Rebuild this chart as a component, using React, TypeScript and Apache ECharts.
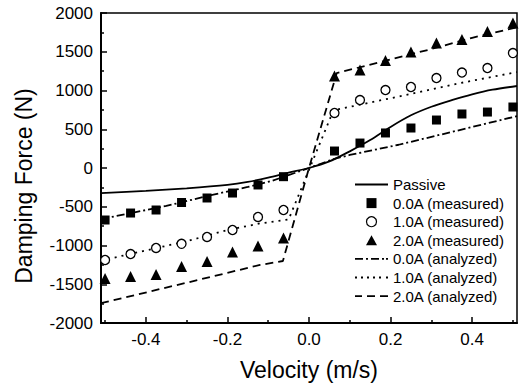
import React, { useEffect, useRef } from "react";
import * as echarts from "echarts";

// Measured velocities (m/s)
const velocities = [-0.5, -0.4375, -0.375, -0.3125, -0.25, -0.1875, -0.125, -0.0625, 0.0625, 0.125, 0.1875, 0.25, 0.3125, 0.375, 0.4375, 0.5];
const measured00 = [-671, -581, -542, -445, -387, -323, -219, -112, 219, 322, 452, 516, 619, 697, 722, 787];
const measured10 = [-1187, -1110, -1032, -978, -890, -800, -632, -542, 710, 877, 1006, 1045, 1161, 1232, 1290, 1483];
const measured20 = [-1425, -1400, -1373, -1270, -1205, -1084, -1006, -903, 1187, 1264, 1387, 1497, 1613, 1658, 1760, 1870];

// Passive curve
const passiveV = [-0.51, -0.4, -0.3, -0.2, -0.15, -0.1, -0.05, 0, 0.05, 0.1, 0.15, 0.2, 0.25, 0.3, 0.35, 0.4, 0.45, 0.51];
const passiveF = [-323, -295, -262, -218, -180, -125, -60, 0, 85, 215, 360, 530, 680, 790, 875, 950, 1010, 1058];

// Analyzed curves
const analyzed00V = [-0.51, -0.35, -0.24, -0.15, -0.09, 0, 0.06, 0.1, 0.22, 0.35, 0.51];
const analyzed00F = [-660, -490, -350, -245, -165, 0, 115, 168, 300, 465, 670];
const analyzed10V = [-0.51, -0.3, -0.2, -0.12, -0.05, 0.06, 0.2, 0.37, 0.51];
const analyzed10F = [-1195, -945, -800, -715, -665, 745, 900, 1095, 1238];
const analyzed20V = [-0.51, -0.3, -0.12, -0.064, 0, 0.068, 0.2, 0.3, 0.4, 0.51];
const analyzed20F = [-1745, -1480, -1251, -1200, 0, 1225, 1400, 1535, 1680, 1815];

const xMajorTicks = [-0.4, -0.2, 0, 0.2, 0.4];
const xMinorTicks = [-0.5, -0.3, -0.1, 0.1, 0.3, 0.5];

const zip = (xs: number[], ys: number[]) => xs.map((x, i) => [x, ys[i]]);

const FONT = "Liberation Sans, Arial, Helvetica, sans-serif";

const solidIcon = "path://M0,0h33v1.8h-33z";
const dashDotIcon = "path://M0,0h8v1.8h-8z M11,0h2v1.8h-2z M16,0h8v1.8h-8z M27,0h2v1.8h-2z M31,0h2v1.8h-2z";
const dotIcon = "path://M0,0h2v1.8h-2z M6,0h2v1.8h-2z M12,0h2v1.8h-2z M18,0h2v1.8h-2z M24,0h2v1.8h-2z M31,0h2v1.8h-2z";
const dashIcon = "path://M0,0h7v1.8h-7z M12,0h8v1.8h-8z M25,0h8v1.8h-8z";
const squareIcon = "path://M0,0h9v9h-9z";
const triangleIcon = "path://M5.5,0L11,10L0,10z";

export default function App() {
  const ref = useRef<HTMLDivElement>(null);
  useEffect(() => {
    if (!ref.current) return;
    const chart = echarts.init(ref.current, undefined, { renderer: "svg" });
    const axisLine = { show: true, onZero: false, lineStyle: { color: "#000", width: 2 } };
    chart.setOption({
      animation: false,
      backgroundColor: "#fff",
      textStyle: { fontFamily: FONT },
      grid: {
        left: 101,
        right: 3,
        top: 13,
        bottom: 64,
        show: true,
        borderColor: "#000",
        borderWidth: 1.5,
      },
      legend: {
        orient: "vertical",
        left: 355,
        top: 177,
        itemWidth: 33,
        itemHeight: 10,
        itemGap: 3.6,
        padding: 0,
        symbolKeepAspect: true,
        textStyle: { fontSize: 15, lineHeight: 15, color: "#000", fontFamily: FONT },
        data: [
          { name: "Passive", icon: solidIcon, itemStyle: { color: "#000", borderWidth: 0 } },
          { name: "0.0A (measured)", icon: squareIcon, itemStyle: { color: "#000", borderWidth: 0 } },
          { name: "1.0A (measured)", icon: "circle", itemStyle: { color: "#fff", borderColor: "#000", borderWidth: 1.2 } },
          { name: "2.0A (measured)", icon: triangleIcon, itemStyle: { color: "#000", borderWidth: 0 } },
          { name: "0.0A (analyzed)", icon: dashDotIcon, itemStyle: { color: "#000", borderWidth: 0 } },
          { name: "1.0A (analyzed)", icon: dotIcon, itemStyle: { color: "#000", borderWidth: 0 } },
          { name: "2.0A (analyzed)", icon: dashIcon, itemStyle: { color: "#000", borderWidth: 0 } },
        ],
      },
      xAxis: [
        {
          type: "value",
          min: -0.51,
          max: 0.51,
          position: "bottom",
          axisLine,
          splitLine: { show: false },
          axisTick: { show: true, inside: true, length: 6, customValues: xMajorTicks, lineStyle: { color: "#000", width: 1.5 } },
          axisLabel: {
            customValues: xMajorTicks,
            formatter: (v: number) => v.toFixed(1),
            fontSize: 17,
            color: "#000",
            margin: 8,
            fontFamily: FONT,
          },
          name: "Velocity (m/s)",
          nameLocation: "middle",
          nameGap: 35,
          nameTextStyle: { fontSize: 23, color: "#000", fontFamily: FONT },
        },
        {
          type: "value",
          min: -0.51,
          max: 0.51,
          position: "bottom",
          axisLine: { show: false, onZero: false },
          splitLine: { show: false },
          axisTick: { show: true, inside: true, length: 3, customValues: xMinorTicks, lineStyle: { color: "#000", width: 1.5 } },
          axisLabel: { show: false },
        },
      ],
      yAxis: {
        type: "value",
        min: -2000,
        max: 2000,
        interval: 500,
        axisLine,
        splitLine: { show: false },
        axisTick: { show: true, inside: true, length: 6, lineStyle: { color: "#000", width: 1.5 } },
        minorTick: { show: true, splitNumber: 2, length: 3, lineStyle: { color: "#000", width: 1.5 } },
        axisLabel: {
          fontSize: 17,
          color: "#000",
          margin: 8,
          fontFamily: FONT,
          formatter: (v: number) => String(v),
        },
        name: "Damping Force (N)",
        nameLocation: "middle",
        nameGap: 66,
        nameTextStyle: { fontSize: 23, color: "#000", fontFamily: FONT, padding: [0, 36, 0, 0] },
      },
      series: [
        {
          name: "Passive",
          type: "line",
          data: zip(passiveV, passiveF),
          smooth: 0.3,
          symbol: "none",
          lineStyle: { color: "#000", width: 1.8, type: "solid" },
          itemStyle: { color: "#000" },
          z: 3,
        },
        {
          name: "0.0A (measured)",
          type: "scatter",
          data: zip(velocities, measured00),
          symbol: "rect",
          symbolSize: 9,
          itemStyle: { color: "#000", opacity: 1 },
          z: 4,
        },
        {
          name: "1.0A (measured)",
          type: "scatter",
          data: zip(velocities, measured10),
          symbol: "circle",
          symbolSize: 9,
          itemStyle: { color: "#fff", borderColor: "#000", borderWidth: 1.3, opacity: 1 },
          z: 4,
        },
        {
          name: "2.0A (measured)",
          type: "scatter",
          data: zip(velocities, measured20),
          symbol: "triangle",
          symbolSize: 11,
          itemStyle: { color: "#000", opacity: 1 },
          z: 4,
        },
        {
          name: "0.0A (analyzed)",
          type: "line",
          data: zip(analyzed00V, analyzed00F),
          symbol: "none",
          lineStyle: { color: "#000", width: 1.8, type: [8, 3, 2, 3] },
          itemStyle: { color: "#000" },
          z: 3,
        },
        {
          name: "1.0A (analyzed)",
          type: "line",
          data: zip(analyzed10V, analyzed10F),
          symbol: "none",
          lineStyle: { color: "#000", width: 1.8, type: [2, 5] },
          itemStyle: { color: "#000" },
          z: 3,
        },
        {
          name: "2.0A (analyzed)",
          type: "line",
          data: zip(analyzed20V, analyzed20F),
          symbol: "none",
          lineStyle: { color: "#000", width: 1.8, type: [8, 5] },
          itemStyle: { color: "#000" },
          z: 3,
        },
      ],
    });
    return () => chart.dispose();
  }, []);
  return (
    <div
      ref={ref}
      style={{ position: "absolute", left: 0, top: 0, width: 520, height: 387 }}
    />
  );
}
